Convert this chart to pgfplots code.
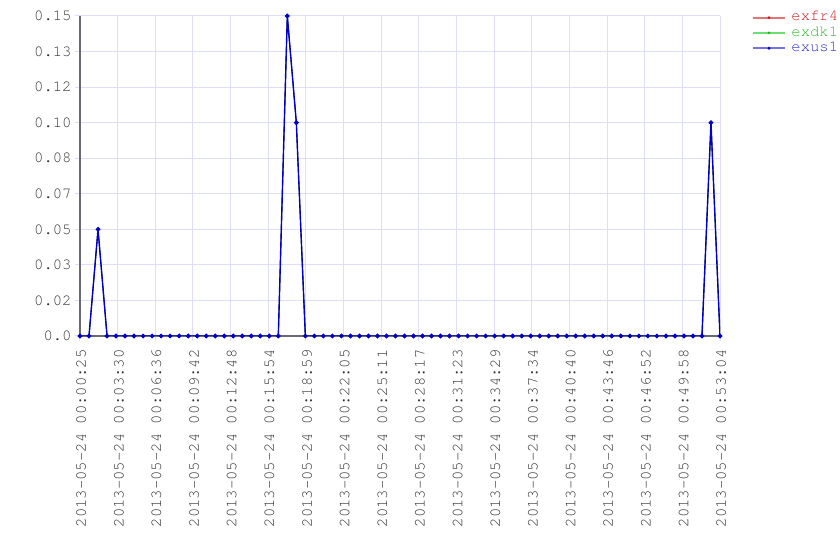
\documentclass[border=0pt]{standalone}
\usepackage{pgfplots}
\pgfplotsset{compat=1.18}
\usepackage{fontspec}
\setmainfont[Extension=.otf]{texgyrecursor-regular}
\definecolor{lav}{RGB}{222,222,252}
\definecolor{axgray}{RGB}{105,105,115}
\definecolor{lblgray}{RGB}{50,50,50}
\definecolor{serblue}{RGB}{0,0,200}
\definecolor{serred}{RGB}{210,20,20}
\definecolor{sergreen}{RGB}{20,190,20}
\definecolor{legred}{RGB}{228,115,115}
\definecolor{leggreen}{RGB}{110,222,110}
\definecolor{legblue}{RGB}{115,115,230}
\definecolor{txtred}{RGB}{200,35,35}
\definecolor{txtgreen}{RGB}{50,185,50}
\definecolor{txtblue}{RGB}{50,50,200}
\pgfplotstableread{
x y
0 0
1 0
2 0.05
3 0
4 0
5 0
6 0
7 0
8 0
9 0
10 0
11 0
12 0
13 0
14 0
15 0
16 0
17 0
18 0
19 0
20 0
21 0
22 0
23 0.15
24 0.10
25 0
26 0
27 0
28 0
29 0
30 0
31 0
32 0
33 0
34 0
35 0
36 0
37 0
38 0
39 0
40 0
41 0
42 0
43 0
44 0
45 0
46 0
47 0
48 0
49 0
50 0
51 0
52 0
53 0
54 0
55 0
56 0
57 0
58 0
59 0
60 0
61 0
62 0
63 0
64 0
65 0
66 0
67 0
68 0
69 0
70 0.10
71 0
}\datatable
\newcommand{\fnt}{\fontsize{7.8}{9}\selectfont}
\begin{document}
\begin{tikzpicture}
\begin{axis}[
  at={(0,0)}, anchor=south west,
  width=320pt, height=160pt, scale only axis,
  xmin=0, xmax=71, ymin=0, ymax=0.15,
  axis x line=bottom, axis y line=left,
  axis line style={-, draw=axgray, line width=0.6pt},
  grid=major,
  major grid style={draw=lav, line width=0.5pt},
  tick style={draw=lav, line width=0.5pt},
  tick align=outside,
  major tick length=2.5pt,
  ytick={0,0.0166667,0.0333333,0.05,0.0666667,0.0833333,0.1,0.1166667,0.1333333,0.15},
  yticklabels={0.0,0.02,0.03,0.05,0.07,0.08,0.10,0.12,0.13,0.15},
  xtick={0,4.17647,8.35294,12.52941,16.70588,20.88235,25.05882,29.23529,33.41176,37.58824,41.76471,45.94118,50.11765,54.29412,58.47059,62.64706,66.82353,71},
  xticklabels={2013-05-24 00:00:25,2013-05-24 00:03:30,2013-05-24 00:06:36,2013-05-24 00:09:42,2013-05-24 00:12:48,2013-05-24 00:15:54,2013-05-24 00:18:59,2013-05-24 00:22:05,2013-05-24 00:25:11,2013-05-24 00:28:17,2013-05-24 00:31:23,2013-05-24 00:34:29,2013-05-24 00:37:34,2013-05-24 00:40:40,2013-05-24 00:43:46,2013-05-24 00:46:52,2013-05-24 00:49:58,2013-05-24 00:53:04},
  xticklabel style={yshift=-4pt, xshift=0.6pt, rotate=90, anchor=east, inner sep=0pt, font=\fnt, text=lblgray},
  yticklabel style={anchor=east, inner sep=0pt, font=\fnt, text=lblgray, xshift=-1.5pt},
  legend style={at={(axis description cs:1,1)}, anchor=north west, xshift=16pt, yshift=3pt,
    draw=none, fill=none, inner sep=0pt, font=\fnt, row sep=0.4pt,
    nodes={inner sep=0.5pt}},
  legend cell align=left,
]
\addplot[serred, line width=0.4pt, mark=*, mark size=0.7pt,
  legend image code/.code={\draw[draw=legred, line width=1pt] (0pt,0pt) -- (15.7pt,0pt); \fill[fill=serred, draw=none] (7.8pt,0pt) circle (0.8pt); \path[draw=none,fill=none] (0pt,0pt) -- (18.5pt,0pt);}]
  table[x=x,y=y] {\datatable};
\addlegendentry{\textcolor{txtred}{exfr4}}
\addplot[sergreen, line width=0.4pt, mark=*, mark size=0.7pt,
  legend image code/.code={\draw[draw=leggreen, line width=1pt] (0pt,0pt) -- (15.7pt,0pt); \fill[fill=sergreen, draw=none] (7.8pt,0pt) circle (0.8pt); \path[draw=none,fill=none] (0pt,0pt) -- (18.5pt,0pt);}]
  table[x=x,y=y] {\datatable};
\addlegendentry{\textcolor{txtgreen}{exdk1}}
\addplot[serblue, line width=0.7pt, mark=*, mark size=0.8pt,
  legend image code/.code={\draw[draw=legblue, line width=1pt] (0pt,0pt) -- (15.7pt,0pt); \fill[fill=serblue, draw=none] (7.8pt,0pt) circle (0.8pt); \path[draw=none,fill=none] (0pt,0pt) -- (18.5pt,0pt);}]
  table[x=x,y=y] {\datatable};
\addlegendentry{\textcolor{txtblue}{exus1}}
\end{axis}
\pgfresetboundingbox
\path[use as bounding box] (-40pt,-112pt) rectangle (380pt,168pt);
\end{tikzpicture}
\end{document}
